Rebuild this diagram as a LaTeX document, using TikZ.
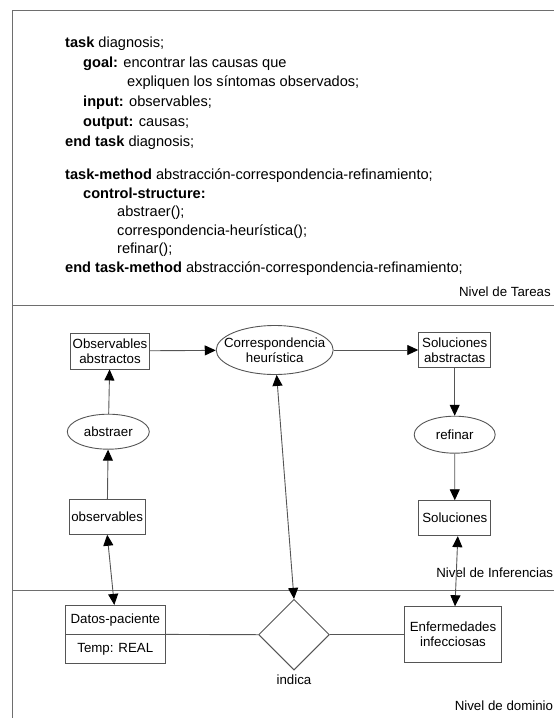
\documentclass[tikz,border=0pt]{standalone}
\usepackage{fontspec}
\setmainfont{Liberation Sans}
\usetikzlibrary{arrows.meta, positioning, shapes.geometric, shapes.multipart}
\definecolor{inkgray}{RGB}{85,85,85}
\definecolor{framegray}{RGB}{110,110,110}

\tikzset{
  codeline/.style={anchor=mid west, inner sep=0pt, font=\fontsize{14.6}{17}\selectfont},
  levelname/.style={anchor=mid east, inner sep=0pt, font=\fontsize{13.3}{15}\selectfont},
  infbox/.style={draw=inkgray, line width=0.9pt, rectangle, align=center, inner sep=0pt, font=\fontsize{13.3}{15}\selectfont},
  infstep/.style={draw=inkgray, line width=0.9pt, ellipse, align=center, inner sep=0pt, font=\fontsize{13.3}{15}\selectfont},
  flow/.style={draw=inkgray, line width=0.9pt, -{Triangle[length=11pt, width=10pt, color=black]}},
  twoway/.style={draw=inkgray, line width=0.9pt, {Triangle[length=11pt, width=10pt, color=black]}-{Triangle[length=11pt, width=10pt, color=black]}},
  link/.style={draw=inkgray, line width=0.9pt},
  frame/.style={draw=framegray, line width=0.9pt}
}

\begin{document}
\begin{tikzpicture}[x=1pt, y=-1pt]
  \useasboundingbox (0,0) rectangle (554,718);

  % level frame
  \draw[frame] (12.3,718) |- (554,10.7);
  \draw[frame] (12.3,305.5) -- (554,305.5);
  \draw[frame] (12.3,590.7) -- (554,590.7);

  % task level
  \node[codeline] (t1) at (65,44.5) {\textbf{task} diagnosis;};
  \node[codeline] (t2) at (83,64.5) {\textbf{goal:} encontrar las causas que};
  \node[codeline] (t3) at (127,84) {expliquen los síntomas observados;};
  \node[codeline] (t4) at (83,104) {\textbf{input:} observables;};
  \node[codeline] (t5) at (83,124) {\textbf{output:} causas;};
  \node[codeline] (t6) at (65,143.5) {\textbf{end task} diagnosis;};
  \node[codeline] (m1) at (65,177) {\textbf{task-method} abstracción-correspondencia-refinamiento;};
  \node[codeline] (m2) at (83,195.5) {\textbf{control-structure:}};
  \node[codeline] (m3) at (117,214) {abstraer();};
  \node[codeline] (m4) at (117,232.5) {correspondencia-heurística();};
  \node[codeline] (m5) at (117,251) {refinar();};
  \node[codeline] (m6) at (65,269.5) {\textbf{end task-method} abstracción-correspondencia-refinamiento;};
  \node[levelname] (lvtask) at (551,294) {Nivel de Tareas};

  % inference level
  \node[infbox, minimum width=79pt, minimum height=36pt] (obsabs) at (110,351) {Observables\\abstractos};
  \node[infstep, minimum width=117pt, minimum height=49pt, label={[align=center, font=\fontsize{13.3}{15}\selectfont]center:Correspondencia\\heurística}] (corr) at (274.7,350) {};
  \node[infbox, minimum width=72pt, minimum height=35pt] (solabs) at (454.7,350) {Soluciones\\abstractas};
  \node[infstep, minimum width=82pt, minimum height=35pt] (abst) at (108.3,431.7) {abstraer};
  \node[infstep, minimum width=81pt, minimum height=37pt] (refi) at (454.7,434.7) {refinar};
  \node[infbox, minimum width=76pt, minimum height=35pt] (obs) at (107.2,516.8) {observables};
  \node[infbox, minimum width=72pt, minimum height=35pt] (sol) at (454.8,518.2) {Soluciones};
  \node[levelname] (lvinf) at (553.3,575) {Nivel de Inferencias};

  \draw[flow] (obsabs) -- (corr);
  \draw[flow] (corr) -- (solabs);
  \draw[flow] (solabs) -- (refi);
  \draw[flow] (refi) -- (sol);
  \draw[flow] (obs) -- (abst);
  \draw[flow] (abst) -- (obsabs);

  % domain level
  \node[infbox, rectangle split, rectangle split parts=2, minimum width=100pt, inner ysep=8pt] (datos) at (115.3,634.4) {Datos-paciente\nodepart{second}Temp: REAL};
  \node[draw=inkgray, line width=0.9pt, diamond, minimum width=70.7pt, minimum height=70.7pt, inner sep=0pt] (rel) at (294,634.7) {};
  \node[below=4pt of rel, inner sep=0pt, font=\fontsize{13.3}{15}\selectfont] (relname) {indica};
  \node[infbox, minimum width=97pt, minimum height=56pt] (enf) at (453,634.7) {Enfermedades\\infecciosas};
  \node[levelname] (lvdom) at (553.3,708) {Nivel de dominio};

  \draw[link] (datos.east) -- (rel.west);
  \draw[link] (rel.east) -- (enf.west);

  \draw[twoway] (obs.south) -- ([xshift=-1pt]datos.north);
  \draw[twoway] (corr) -- (rel.north);
  \draw[twoway] ([xshift=3pt]sol.south) -- ([xshift=2pt]enf.north);
\end{tikzpicture}
\end{document}
